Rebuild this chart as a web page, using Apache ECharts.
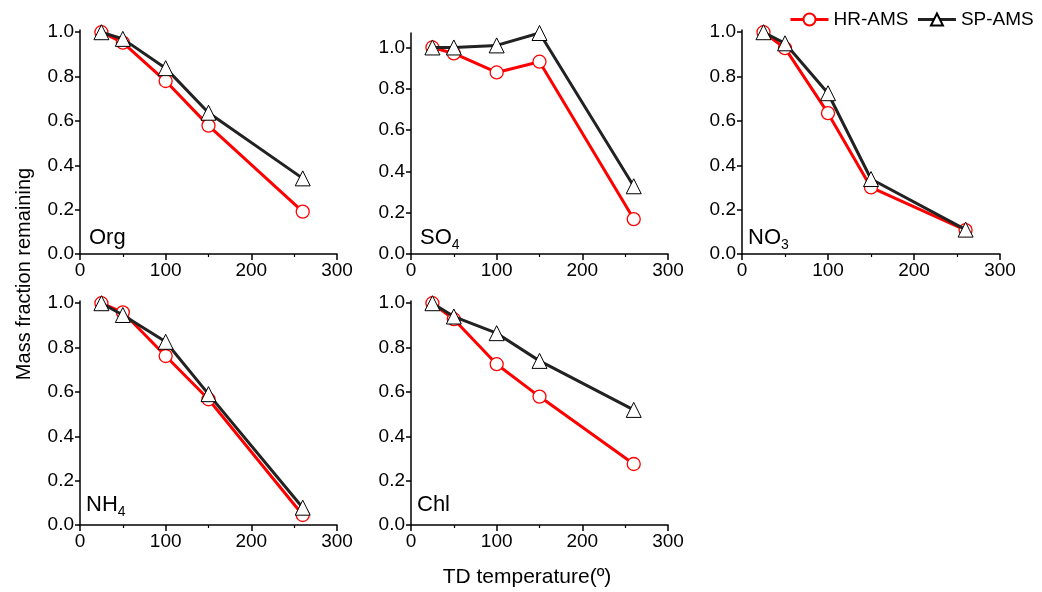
<!DOCTYPE html>
<html lang="en">
  <head>
    <meta charset="UTF-8" />
    <title>TD mass fraction remaining</title>
    <script src="https://cdn.jsdelivr.net/npm/echarts@6/dist/echarts.min.js"></script>
    <style>
      html,
      body {
        margin: 0;
        padding: 0;
        background: #fff;
      }
      #main {
        width: 1042px;
        height: 592px;
      }
    </style>
  </head>

  <body>
    <div id="main"></div>
  </body>
  <script>
    // TD temperature (x) for every panel
    var temps = [25, 50, 100, 150, 260];
    var yTicks = [0, 0.2, 0.4, 0.6, 0.8, 1.0];

    // mass fraction remaining, HR-AMS vs SP-AMS
    var orgHR = [1.0, 0.953, 0.78, 0.579, 0.191];
    var orgSP = [1.0, 0.97, 0.838, 0.637, 0.341];
    var so4HR = [1.0, 0.971, 0.879, 0.931, 0.169];
    var so4SP = [1.0, 1.0, 1.01, 1.07, 0.328];
    var no3HR = [1.0, 0.928, 0.635, 0.3, 0.108];
    var no3SP = [1.0, 0.95, 0.725, 0.338, 0.11];
    var nh4HR = [1.0, 0.959, 0.762, 0.567, 0.045];
    var nh4SP = [1.0, 0.947, 0.826, 0.59, 0.078];
    var chlHR = [1.0, 0.928, 0.725, 0.579, 0.275];
    var chlSP = [1.0, 0.94, 0.865, 0.74, 0.519];

    var panelNames = ["Org", "SO{s|4}", "NO{s|3}", "NH{s|4}", "Chl"];
    var hrData = [orgHR, so4HR, no3HR, nh4HR, chlHR];
    var spData = [orgSP, so4SP, no3SP, nh4SP, chlSP];

    var FONT = "Liberation Sans, Arial, sans-serif";
    // grid boxes: [left, top, width, height, yMax]
    var boxes = [
      [80, 30, 257, 224, 1.01],
      [411, 33, 257, 221, 1.07],
      [742, 30, 258, 224, 1.01],
      [80, 301, 257, 224, 1.01],
      [411, 301, 257, 224, 1.01],
    ];
    // where the panel names sit: [left, top]
    var namePos = [
      [89, 225],
      [420, 225],
      [748, 225],
      [86, 492],
      [417, 492],
    ];

    var grids = [], xAxes = [], yAxes = [], series = [], titles = [];
    boxes.forEach(function (b, i) {
      grids.push({ left: b[0], top: b[1], width: b[2], height: b[3] });
      xAxes.push({
        type: "value",
        gridIndex: i,
        min: 0,
        max: 300,
        interval: 100,
        axisLine: { lineStyle: { color: "#000", width: 1.5 } },
        axisTick: { length: 6, lineStyle: { color: "#000", width: 1.5 } },
        minorTick: { show: true, splitNumber: 2, length: 3, lineStyle: { color: "#000", width: 1.2 } },
        splitLine: { show: false },
        axisLabel: { color: "#000", fontSize: 19, fontFamily: FONT, margin: 7 },
      });
      yAxes.push({
        type: "value",
        gridIndex: i,
        min: 0,
        max: b[4],
        axisLine: { show: true, lineStyle: { color: "#000", width: 1.5 } },
        axisTick: { show: true, length: 5, customValues: yTicks, lineStyle: { color: "#000", width: 1.5 } },
        splitLine: { show: false },
        axisLabel: {
          color: "#000",
          fontSize: 19,
          fontFamily: FONT,
          margin: 6,
          customValues: yTicks,
          formatter: function (v) {
            return v.toFixed(1);
          },
        },
      });
      series.push({
        name: "HR-AMS",
        type: "line",
        xAxisIndex: i,
        yAxisIndex: i,
        data: temps.map(function (t, k) { return [t, hrData[i][k]]; }),
        symbol: "circle",
        symbolSize: 13,
        lineStyle: { color: "#ff0000", width: 3 },
        itemStyle: { color: "#fff", borderColor: "#ff0000", borderWidth: 1.3 },
        z: 2,
      });
      series.push({
        name: "SP-AMS",
        type: "line",
        xAxisIndex: i,
        yAxisIndex: i,
        data: temps.map(function (t, k) { return [t, spData[i][k]]; }),
        symbol: "triangle",
        symbolSize: 15,
        lineStyle: { color: "#222", width: 3 },
        itemStyle: { color: "#fff", borderColor: "#000", borderWidth: 1 },
        z: 3,
      });
      titles.push({
        text: panelNames[i],
        left: namePos[i][0],
        top: namePos[i][1],
        padding: 0,
        textStyle: {
          color: "#000",
          fontFamily: FONT,
          fontWeight: "normal",
          fontSize: 22,
          lineHeight: 26,
          rich: {
            s: { fontSize: 14, lineHeight: 14, padding: [13, 0, 0, 0], verticalAlign: "top", fontFamily: FONT, color: "#000" },
          },
        },
      });
    });

    var myChart = echarts.init(document.getElementById("main"));
    myChart.setOption({
      animation: false,
      backgroundColor: "#fff",
      title: titles,
      legend: {
        data: ["HR-AMS", "SP-AMS"],
        left: 789,
        top: 10,
        width: 260,
        padding: 0,
        itemWidth: 38,
        itemHeight: 15,
        itemGap: 8,
        lineStyle: { width: 3 },
        textStyle: { color: "#000", fontSize: 19, fontFamily: FONT },
      },
      grid: grids,
      xAxis: xAxes,
      yAxis: yAxes,
      series: series,
      graphic: [
        {
          type: "text",
          x: 24,
          y: 274,
          rotation: Math.PI / 2,
          style: {
            text: "Mass fraction remaining",
            fill: "#000",
            font: "20px " + FONT,
            align: "center",
            verticalAlign: "middle",
          },
        },
        {
          type: "text",
          x: 527,
          y: 577,
          style: {
            text: "TD temperature(\u00ba)",
            fill: "#000",
            font: "21px " + FONT,
            align: "center",
            verticalAlign: "middle",
          },
        },
      ],
    });
  </script>
</html>
